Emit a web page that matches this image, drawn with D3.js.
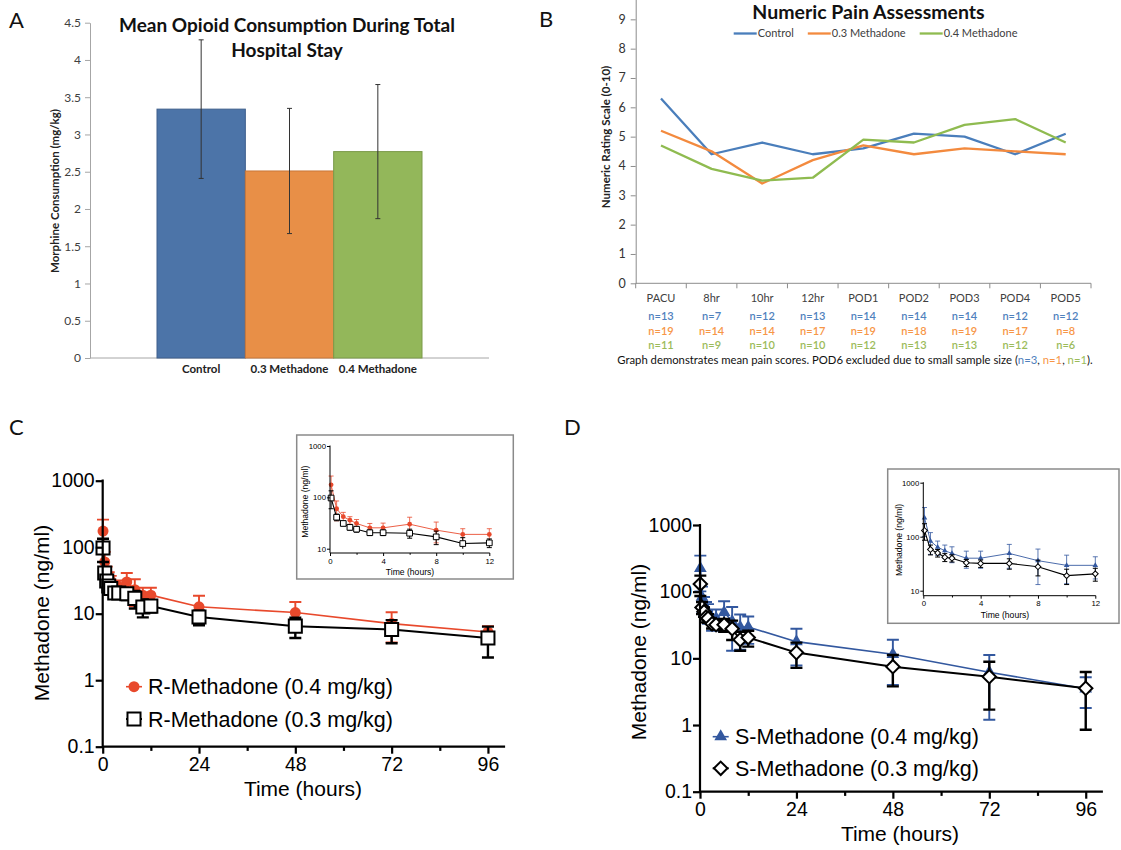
<!DOCTYPE html>
<html>
<head>
<meta charset="utf-8">
<script src="https://cdn.jsdelivr.net/npm/d3@7"></script>
<style>
  body { margin: 0; background: #fff; }
  svg { display: block; }
</style>
</head>
<body>
<svg id="fig" width="1121" height="850"></svg>
<script>
// ---------- Panel A: mean opioid consumption ----------
const groupsA = ["Control", "0.3 Methadone", "0.4 Methadone"];
const meanA = [3.34, 2.51, 2.77];
const sdA = [0.93, 0.84, 0.90];
const ticksA = [0, 0.5, 1, 1.5, 2, 2.5, 3, 3.5, 4, 4.5];

// ---------- Panel B: numeric pain assessments ----------
const timepointsB = ["PACU", "8hr", "10hr", "12hr", "POD1", "POD2", "POD3", "POD4", "POD5"];
const seriesB = ["Control", "0.3 Methadone", "0.4 Methadone"];
const controlB = [6.3, 4.4, 4.8, 4.4, 4.6, 5.1, 5.0, 4.4, 5.1];
const meth03B = [5.2, 4.5, 3.4, 4.2, 4.7, 4.4, 4.6, 4.5, 4.4];
const meth04B = [4.7, 3.9, 3.5, 3.6, 4.9, 4.8, 5.4, 5.6, 4.8];
const nControlB = [13, 7, 12, 13, 14, 14, 14, 12, 12];
const nMeth03B = [19, 14, 14, 17, 19, 18, 19, 17, 8];
const nMeth04B = [11, 9, 10, 10, 12, 13, 13, 12, 6];
const ticksB = [0, 1, 2, 3, 4, 5, 6, 7, 8, 9];
const pod6N = [3, 1, 1];

// ---------- Panels C and D: plasma methadone (ng/ml) ----------
const hours = [0.083, 0.5, 1, 1.5, 2, 3, 4, 6, 8, 10, 12, 24, 48, 72, 96];
const rMeth04 = [175, 60, 42, 36, 31, 25.5, 25.5, 30, 23, 19, 19, 12.7, 10.4, 7.1, 5.3];
const rMeth04sd = [85, 25, 9, 6, 6, 5.5, 6, 11, 10, 5.5, 5.5, 5.9, 4.6, 3.4, 1.2];
const rMeth03 = [97, 41, 31, 26, 24, 20.5, 20.5, 20, 17, 12.6, 13, 8.9, 6.5, 5.8, 4.3];
const rMeth03sd = [37, 6, 3, 3, 3, 2.5, 2.5, 4, 5, 3.8, 2.5, 2.2, 2.2, 2.2, 2.1];
const sMeth04 = [224, 83, 64, 55, 49, 40, 40, 49, 36, 29.5, 29.5, 17.8, 11.5, 6.2, 3.5];
const sMeth04sd = [123, 36, 19, 15, 16, 14, 14, 23, 23, 16, 13, 10, 7.5, 5, 1.7];
const sMeth03 = [130, 58, 50, 41.6, 40, 33, 32, 32, 27.8, 19, 20.5, 12.2, 7.5, 5.3, 3.55];
const sMeth03sd = [44, 12, 8, 7, 6, 5, 5, 7, 9, 6, 5.5, 5, 3.7, 3.6, 2.7];
const majorHours = [0, 24, 48, 72, 96];
const minorHours = [12, 36, 60, 84];
const insetMajorHours = [0, 4, 8, 12];
const insetMinorHours = [2, 6, 10];
const logTicks = [0.1, 1, 10, 100, 1000];
const insetLogTicks = [10, 100, 1000];

const svg = d3.select("#fig");
const FONT_OFFICE = "Lato, 'Open Sans', sans-serif";
const FONT_PRISM = "'Liberation Sans', Arial, Helvetica, sans-serif";

const colA = ["#4c74a8", "#e88f47", "#93b75a"];
const colAedge = ["#3e5f8c", "#c8773a", "#7a9a49"];
const colB = ["#4a7ebb", "#f38a3e", "#8fbb50"];
const colBtext = ["#4f81bd", "#f79646", "#9bbb59"];
const RED = "#e8492c";
const BLUE = "#33589f";

function panelLetter(t, x, y) {
  svg.append("text").attr("x", x).attr("y", y).text(t)
    .attr("font-family", FONT_OFFICE).attr("font-size", 22).attr("fill", "#111");
}
panelLetter("A", 9, 28);
panelLetter("B", 539, 27);
panelLetter("C", 9, 435);
panelLetter("D", 564, 435);

// ================= Panel A =================
(function () {
  const g = svg.append("g");
  const y = d3.scaleLinear().domain([0, 4.5]).range([358, 22.7]);
  const x = d3.scaleBand().domain(groupsA).range([157, 422]);
  const ax = g.append("g").attr("transform", "translate(90,0)")
    .call(d3.axisLeft(y).tickValues(ticksA).tickSize(5).tickSizeOuter(0).tickPadding(4)
      .tickFormat(d3.format("~g")));
  ax.attr("font-family", FONT_OFFICE).attr("font-size", 12);
  ax.select(".domain").attr("stroke", "#a6a6a6");
  ax.selectAll(".tick line").attr("stroke", "#a6a6a6");
  ax.selectAll(".tick text").attr("fill", "#404040");
  g.append("line").attr("x1", 90).attr("x2", 489).attr("y1", y(0)).attr("y2", y(0))
    .attr("stroke", "#a6a6a6");

  g.selectAll("rect.bar").data(groupsA).join("rect").attr("class", "bar")
    .attr("x", d => x(d)).attr("width", x.bandwidth())
    .attr("y", (d, i) => y(meanA[i])).attr("height", (d, i) => y(0) - y(meanA[i]))
    .attr("fill", (d, i) => colA[i]).attr("stroke", (d, i) => colAedge[i]).attr("stroke-width", 1);

  g.selectAll("path.err").data(groupsA).join("path").attr("class", "err")
    .attr("d", (d, i) => {
      const cx = x(d) + x.bandwidth() / 2, y1 = y(meanA[i] + sdA[i]), y2 = y(meanA[i] - sdA[i]);
      return `M${cx},${y1}V${y2}M${cx - 2.5},${y1}H${cx + 2.5}M${cx - 2.5},${y2}H${cx + 2.5}`;
    })
    .attr("stroke", "#333").attr("stroke-width", 1).attr("fill", "none");

  g.selectAll("text.cat").data(groupsA).join("text").attr("class", "cat")
    .attr("x", d => x(d) + x.bandwidth() / 2).attr("y", 372.5).attr("text-anchor", "middle")
    .attr("font-family", FONT_OFFICE).attr("font-weight", "bold").attr("font-size", 11.5)
    .attr("fill", "#222").text(d => d);

  const title = g.append("text").attr("text-anchor", "middle").attr("font-family", FONT_OFFICE)
    .attr("font-weight", "bold").attr("font-size", 19).attr("fill", "#111");
  title.append("tspan").attr("x", 287).attr("y", 32).text("Mean Opioid Consumption During Total");
  title.append("tspan").attr("x", 287).attr("y", 57).text("Hospital Stay");

  g.append("text").attr("transform", "translate(59,191) rotate(-90)").attr("text-anchor", "middle")
    .attr("font-family", FONT_OFFICE).attr("font-weight", "bold").attr("font-size", 11.5)
    .attr("fill", "#222").text("Morphine Consumption (mg/kg)");
})();

// ================= Panel B =================
(function () {
  const g = svg.append("g");
  const y = d3.scaleLinear().domain([0, 10]).range([283.3, -10]);
  const x = d3.scaleBand().domain(timepointsB).range([635.7, 1091]);
  const cx = d => x(d) + x.bandwidth() / 2;
  const ax = g.append("g").attr("transform", "translate(635.7,0)")
    .call(d3.axisLeft(y).tickValues(ticksB).tickSize(5).tickSizeOuter(0).tickPadding(5));
  ax.attr("font-family", FONT_OFFICE).attr("font-size", 12.5);
  ax.select(".domain").attr("stroke", "#8c8c8c");
  ax.selectAll(".tick line").attr("stroke", "#8c8c8c");
  ax.selectAll(".tick text").attr("fill", "#333");

  const bounds = timepointsB.map(d => x(d)).concat([x.range()[1]]);
  g.append("line").attr("x1", 635.7).attr("x2", 1091).attr("y1", y(0)).attr("y2", y(0))
    .attr("stroke", "#8c8c8c");
  g.selectAll("line.xt").data(bounds).join("line").attr("class", "xt")
    .attr("x1", d => d).attr("x2", d => d).attr("y1", y(0)).attr("y2", y(0) + 5)
    .attr("stroke", "#8c8c8c");

  const seriesVals = [controlB, meth03B, meth04B];
  const line = d3.line().x((v, i) => cx(timepointsB[i])).y(v => y(v));
  seriesVals.forEach((vals, k) => {
    g.append("path").datum(vals).attr("d", line).attr("fill", "none")
      .attr("stroke", colB[k]).attr("stroke-width", 2.3).attr("stroke-linejoin", "round");
  });

  // legend
  let lx = 733.7;
  seriesB.forEach((name, k) => {
    g.append("line").attr("x1", lx).attr("x2", lx + 23).attr("y1", 33.5).attr("y2", 33.5)
      .attr("stroke", colB[k]).attr("stroke-width", 2.3);
    const t = g.append("text").attr("x", lx + 24).attr("y", 37.3).attr("font-family", FONT_OFFICE)
      .attr("font-size", 11).attr("fill", "#404040").text(name);
    lx += 24 + t.node().getComputedTextLength() + 14;
  });

  g.append("text").attr("x", 868.5).attr("y", 19).attr("text-anchor", "middle")
    .attr("font-family", FONT_OFFICE).attr("font-weight", "bold").attr("font-size", 19.5)
    .attr("fill", "#111").text("Numeric Pain Assessments");

  g.append("text").attr("transform", "translate(610,137) rotate(-90)").attr("text-anchor", "middle")
    .attr("font-family", FONT_OFFICE).attr("font-weight", "bold").attr("font-size", 11.5)
    .attr("fill", "#222").text("Numeric Rating Scale (0-10)");

  g.selectAll("text.cat").data(timepointsB).join("text").attr("class", "cat")
    .attr("x", cx).attr("y", 302).attr("text-anchor", "middle")
    .attr("font-family", FONT_OFFICE).attr("font-size", 11).attr("fill", "#404040").text(d => d);

  [nControlB, nMeth03B, nMeth04B].forEach((ns, k) => {
    g.selectAll("text.n" + k).data(ns).join("text").attr("class", "n" + k)
      .attr("x", (d, i) => cx(timepointsB[i])).attr("y", 320 + k * 14.5).attr("text-anchor", "middle")
      .attr("font-family", FONT_OFFICE).attr("font-size", 11).attr("font-weight", 600)
      .attr("fill", colBtext[k]).text(d => "n=" + d);
  });

  const foot = g.append("text").attr("x", 855).attr("y", 363.5).attr("text-anchor", "middle")
    .attr("font-family", FONT_OFFICE).attr("font-size", 11.3).attr("fill", "#111");
  foot.append("tspan").text("Graph demonstrates mean pain scores. POD6 excluded due to small sample size (");
  pod6N.forEach((n, k) => {
    foot.append("tspan").attr("fill", colBtext[k]).text("n=" + n);
    foot.append("tspan").text(k < pod6N.length - 1 ? ", " : ").");
  });
})();

// ================= Panels C and D =================
function drawPK(o) {
  const g = svg.append("g").attr("font-family", FONT_PRISM);
  const x = d3.scaleLinear().domain(o.xDomain).range(o.xRange);
  const y = d3.scaleLog().domain(o.yDomain).range(o.yRange);
  const ymin = o.yDomain[0];
  const x0 = o.xRange[0];
  const axisY = o.axisY;

  if (o.box) {
    g.append("rect").attr("x", o.box[0]).attr("y", o.box[1]).attr("width", o.box[2]).attr("height", o.box[3])
      .attr("fill", "#fff").attr("stroke", "#8a8a8a").attr("stroke-width", 1.5);
  }

  // data: error bars, connecting line, markers
  o.series.forEach(s => {
    const pts = hours.map((t, i) => ({ t, m: s.mean[i], sd: s.sd[i] })).filter(p => p.t <= o.tMax);
    const sg = g.append("g");
    sg.append("path")
      .attr("d", pts.map(p => {
        const cx = x(p.t), y1 = y(p.m + p.sd);
        const lo = p.m - p.sd;
        const y2 = lo > ymin ? y(lo) : y(ymin);
        let d = `M${cx},${y1}V${y2}M${cx - o.cap},${y1}H${cx + o.cap}`;
        if (lo > ymin) d += `M${cx - o.cap},${y2}H${cx + o.cap}`;
        return d;
      }).join(""))
      .attr("stroke", s.color).attr("stroke-width", o.errW * s.wScale).attr("fill", "none");
    sg.append("path").datum(pts)
      .attr("d", d3.line().x(p => x(p.t)).y(p => y(p.m)))
      .attr("fill", "none").attr("stroke", s.color).attr("stroke-width", o.lineW * s.wScale);
    sg.selectAll("path.mk").data(pts).join("path").attr("class", "mk")
      .attr("transform", p => `translate(${x(p.t)},${y(p.m)})` + (s.rotate ? " rotate(45)" : ""))
      .attr("d", d3.symbol(s.symbol, s.size * o.markScale)())
      .attr("fill", s.open ? "#fff" : s.color)
      .attr("stroke", s.open ? s.color : "none")
      .attr("stroke-width", o.markStroke);
  });

  // axes
  const yAx = g.append("g").attr("transform", `translate(${x0},0)`)
    .call(d3.axisLeft(y).tickValues(o.yTicks).tickFormat(d3.format("~g"))
      .tickSize(o.tick).tickSizeOuter(0).tickPadding(o.yPad));
  yAx.select(".domain").remove();
  yAx.attr("font-family", FONT_PRISM).attr("font-size", o.tickFont);
  yAx.selectAll("line").attr("stroke", "#000").attr("stroke-width", o.axisW);
  yAx.selectAll("text").attr("fill", "#000");

  const xAx = g.append("g").attr("transform", `translate(0,${axisY})`)
    .call(d3.axisBottom(x).tickValues(o.xMajor).tickFormat(d3.format("~g"))
      .tickSize(o.tick).tickSizeOuter(0).tickPadding(o.xPad));
  xAx.select(".domain").remove();
  xAx.attr("font-family", FONT_PRISM).attr("font-size", o.tickFont);
  xAx.selectAll("line").attr("stroke", "#000").attr("stroke-width", o.axisW);
  xAx.selectAll("text").attr("fill", "#000");

  const xMin = g.append("g").attr("transform", `translate(0,${axisY})`)
    .call(d3.axisBottom(x).tickValues(o.xMinor).tickFormat("").tickSize(o.tick * 0.6).tickSizeOuter(0));
  xMin.select(".domain").remove();
  xMin.selectAll("line").attr("stroke", "#000").attr("stroke-width", o.axisW);

  g.append("path")
    .attr("d", `M${x0},${y(o.yDomain[1])}V${axisY}H${o.xRange[1]}`)
    .attr("fill", "none").attr("stroke", "#000").attr("stroke-width", o.axisW)
    .attr("stroke-linecap", "square");

  g.append("text").attr("x", o.xLabel[0]).attr("y", o.xLabel[1]).attr("text-anchor", "middle")
    .attr("font-size", o.labelFont).attr("fill", "#000").text("Time (hours)");
  g.append("text").attr("transform", `translate(${o.yLabel[0]},${o.yLabel[1]}) rotate(-90)`)
    .attr("text-anchor", "middle").attr("font-size", o.labelFont).attr("fill", "#000")
    .text("Methadone (ng/ml)");

  if (o.legend) {
    o.legend.rows.forEach((row, k) => {
      const s = o.series[row.series];
      const ly = o.legend.y[k];
      const lx = o.legend.x;
      g.append("line").attr("x1", lx - 8).attr("x2", lx + 8).attr("y1", ly).attr("y2", ly)
        .attr("stroke", s.color).attr("stroke-width", o.lineW * s.wScale);
      g.append("path").attr("transform", `translate(${lx},${ly})` + (s.rotate ? " rotate(45)" : ""))
        .attr("d", d3.symbol(s.symbol, s.size * o.markScale)())
        .attr("fill", s.open ? "#fff" : s.color).attr("stroke", s.open ? s.color : "none")
        .attr("stroke-width", o.markStroke);
      g.append("text").attr("x", o.legend.textX).attr("y", ly + 7.7)
        .attr("font-size", o.legend.font).attr("fill", "#000").text(row.label);
    });
  }
}

const seriesC = [
  { mean: rMeth04, sd: rMeth04sd, color: RED, symbol: d3.symbolCircle, size: 95, open: false, wScale: 0.8 },
  { mean: rMeth03, sd: rMeth03sd, color: "#000", symbol: d3.symbolSquare, size: 170, open: true, wScale: 1 }
];
const seriesD = [
  { mean: sMeth04, sd: sMeth04sd, color: BLUE, symbol: d3.symbolTriangle, size: 70, open: false, wScale: 0.8 },
  { mean: sMeth03, sd: sMeth03sd, color: "#000", symbol: d3.symbolSquare, size: 90, open: true, rotate: true, wScale: 1 }
];

const mainStyle = {
  xDomain: [0, 100], yDomain: [0.1, 1000], tMax: 100,
  xMajor: majorHours, xMinor: minorHours, yTicks: logTicks,
  tick: 7, xPad: 3, yPad: 1, axisW: 2.2, tickFont: 19.5, labelFont: 21,
  lineW: 2, errW: 2.4, cap: 6, markScale: 1, markStroke: 2
};
const insetStyle = {
  xDomain: [0, 12], yDomain: [10, 1000], tMax: 12,
  xMajor: insetMajorHours, xMinor: insetMinorHours, yTicks: insetLogTicks,
  tick: 3, xPad: 2, yPad: 1, axisW: 1, tickFont: 7.8, labelFont: 8.6,
  lineW: 1.1, errW: 1, cap: 2.5, markScale: 0.19, markStroke: 1
};

// Panel C main
drawPK(Object.assign({}, mainStyle, {
  xRange: [102.7, 504], yRange: [746.7, 480.7], axisY: 746.7,
  series: seriesC,
  xLabel: [303, 796], yLabel: [49, 613],
  legend: { x: 134, textX: 148, y: [686.7, 719], font: 21.5,
    rows: [{ series: 0, label: "R-Methadone (0.4 mg/kg)" }, { series: 1, label: "R-Methadone (0.3 mg/kg)" }] }
}));
// Panel C inset
drawPK(Object.assign({}, insetStyle, {
  box: [296.7, 435, 216.6, 144],
  xRange: [330, 489.3], yRange: [548.7, 446], axisY: 553,
  series: seriesC,
  xLabel: [410, 575], yLabel: [308, 501.7]
}));

// Panel D main
drawPK(Object.assign({}, mainStyle, {
  xRange: [700, 1101.8], yRange: [791.7, 525], axisY: 791.7,
  series: seriesD,
  xLabel: [900, 841], yLabel: [646, 652],
  legend: { x: 720.7, textX: 735, y: [736.7, 768.3], font: 21.5,
    rows: [{ series: 0, label: "S-Methadone (0.4 mg/kg)" }, { series: 1, label: "S-Methadone (0.3 mg/kg)" }] }
}));
// Panel D inset
drawPK(Object.assign({}, insetStyle, {
  box: [887.7, 469, 231.3, 154.3],
  xRange: [923.3, 1095.3], yRange: [590.7, 482.7], axisY: 595.7,
  series: seriesD,
  xLabel: [1005, 618], yLabel: [902, 540]
}));
</script>
</body>
</html>
